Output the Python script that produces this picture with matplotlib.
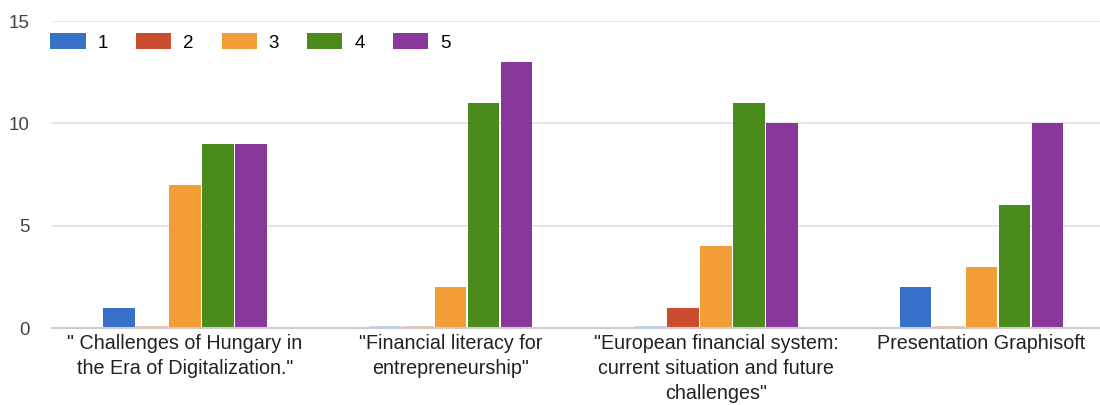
import matplotlib
matplotlib.use("Agg")
import matplotlib.pyplot as plt
import numpy as np
from matplotlib.patches import Patch

plt.rcParams['font.family'] = ['Liberation Sans', 'DejaVu Sans']

categories = ['" Challenges of Hungary in\nthe Era of Digitalization."',
              '"Financial literacy for\nentrepreneurship"',
              '"European financial system:\ncurrent situation and future\nchallenges"',
              'Presentation Graphisoft']
series_names = ['1', '2', '3', '4', '5']
s1 = [1, 0, 0, 2]
s2 = [0, 0, 1, 0]
s3 = [7, 2, 4, 3]
s4 = [9, 11, 11, 6]
s5 = [9, 13, 10, 10]
series = [s1, s2, s3, s4, s5]
colors = ['#3871c9', '#cc4c2f', '#f29d35', '#4b8b1c', '#87389a']

fig = plt.figure(figsize=(11, 4.05), dpi=100)
ax = fig.add_axes([0.0473, 0.19, 0.9527, 0.758])

x = np.arange(len(categories))
slot = 0.1243
width = 0.119
for i, (vals, c) in enumerate(zip(series, colors)):
    pos = x + (i - 2) * slot
    for p, v in zip(pos, vals):
        if v > 0:
            ax.bar(p, v, width=width, color=c, zorder=3)
        else:
            ax.plot([p - width / 2, p + width / 2], [0.04, 0.04], color=c,
                    alpha=0.35, lw=2, zorder=3, solid_capstyle='butt')

ax.set_xlim(-0.501, 3.446)
ax.set_ylim(0, 15)
ax.set_yticks([0, 5, 10, 15])
ax.yaxis.grid(True, color='#e0e0e0', lw=1.2, zorder=0)
ax.set_axisbelow(True)
for s in ['top', 'right', 'left']:
    ax.spines[s].set_visible(False)
ax.spines['bottom'].set_color('#cccccc')
ax.spines['bottom'].set_linewidth(1.5)
ax.spines['bottom'].set_zorder(4)
ax.tick_params(axis='y', length=0, labelsize=13.5, labelcolor='#444444', pad=16)
ax.tick_params(axis='x', length=0, labelsize=14.2, labelcolor='#222222', pad=4)
ax.set_xticks(x)
ax.set_xticklabels(categories, linespacing=1.42)

handles = [Patch(facecolor=c, edgecolor='none') for c in colors]
ax.legend(handles, series_names, loc='upper left', bbox_to_anchor=(-0.0015, 0.961),
          ncol=5, frameon=False, fontsize=13.5, handlelength=1.87, handleheight=0.96,
          columnspacing=1.5, handletextpad=0.64, borderaxespad=0, borderpad=0)

fig.savefig('out.png', dpi=100)
